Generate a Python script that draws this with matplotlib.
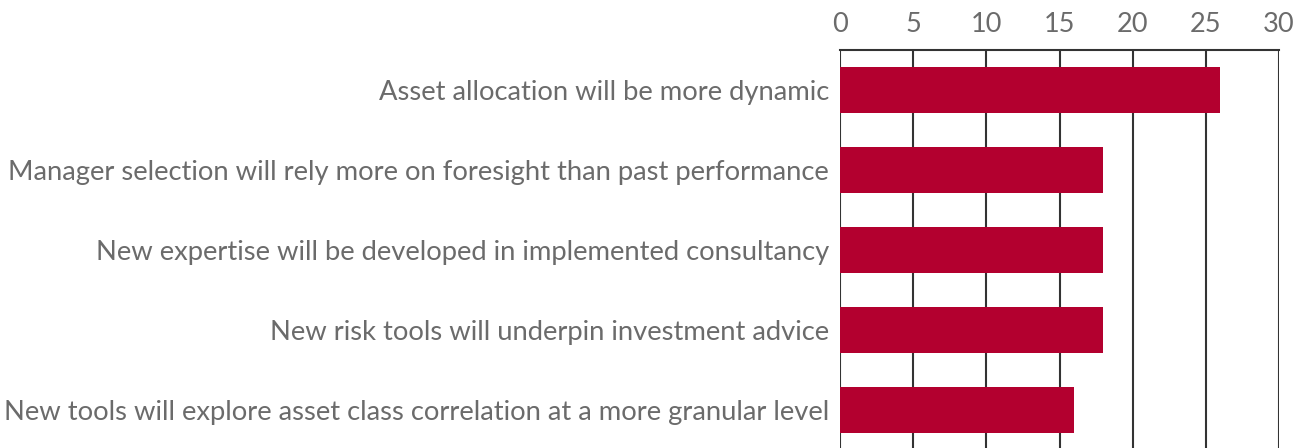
import matplotlib
matplotlib.use("Agg")
import matplotlib.pyplot as plt

categories = [
    "Asset allocation will be more dynamic",
    "Manager selection will rely more on foresight than past performance",
    "New expertise will be developed in implemented consultancy",
    "New risk tools will underpin investment advice",
    "New tools will explore asset class correlation at a more granular level",
]
values = [26, 18, 18, 18, 16]
xticks = [0, 5, 10, 15, 20, 25, 30]

plt.rcParams['font.family'] = ['Lato', 'DejaVu Sans']

fig = plt.figure(figsize=(12.96, 4.48), dpi=100)
W, H = 1296, 448
left, right = 840 / W, 1279 / W
top = 1 - 50 / H
ax = fig.add_axes([left, 0, right - left, top])

pos = list(range(len(categories)))
ax.barh(pos, values, height=0.575, color="#B3002F", zorder=3)
ax.set_xlim(0, 30)
ax.set_ylim(4.475, -0.5)
ax.set_xticks(xticks)
ax.set_xticklabels([str(t) for t in xticks])
ax.xaxis.tick_top()
ax.tick_params(axis='x', length=0, pad=9, labelsize=19.5, labelcolor="#6b6b6b")
ax.set_yticks(pos)
ax.set_yticklabels(categories)
ax.tick_params(axis='y', length=0, pad=8, labelsize=19.7, labelcolor="#6b6b6b")
ax.grid(axis='x', color="#333333", linewidth=1.5, zorder=0)
for s in ['left', 'right', 'bottom']:
    ax.spines[s].set_visible(False)
ax.spines['top'].set_color("#333333")
ax.spines['top'].set_linewidth(1.5)

fig.savefig("out.png", dpi=100)
